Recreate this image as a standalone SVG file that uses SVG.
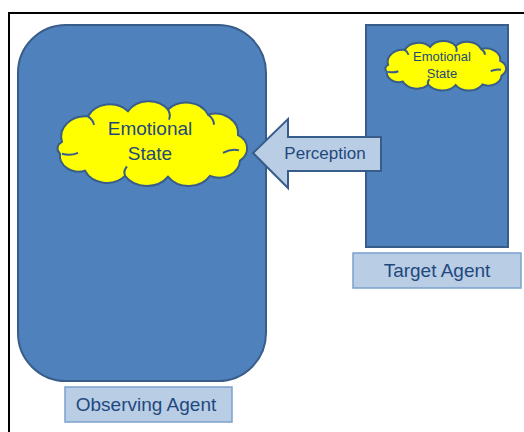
<svg xmlns="http://www.w3.org/2000/svg" width="524" height="432" viewBox="0 0 524 432">
  <style>
    .agent { fill: #4F81BD; stroke: #385D8A; stroke-width: 2; }
    .label { fill: #B9CDE5; stroke: #7BA0CD; stroke-width: 1.5; }
    .cloud { fill: #FFFF00; stroke: #385D8A; stroke-width: 2; vector-effect: non-scaling-stroke; }
    .curl { fill: none; stroke: #385D8A; stroke-width: 2; vector-effect: non-scaling-stroke; }
    .txt { font-family: "Liberation Sans", Arial, sans-serif; fill: #1F497D; text-anchor: middle; }
  </style>
  <defs>
    <g id="cloudShape">
      <path class="cloud" d="M12,48 A24,24 0 0 1 38,18 A24,24 0 0 1 78,12 A24,24 0 0 1 118,10 A24,24 0 0 1 158,16 A23,23 0 0 1 188,40 A18,18 0 0 1 190,70 A21,21 0 0 1 160,88 A25,25 0 0 1 118,89 A26,26 0 0 1 75,88 A24,24 0 0 1 35,82 A19,19 0 0 1 10,62 A9,9 0 0 1 12,48 Z"/>
      <path class="curl" d="M12,62 Q20,65 28,61"/>
      <path class="curl" d="M75,88 Q73,82 77,77"/>
      <path class="curl" d="M189,58 Q181,56 173,61"/>
      <path class="curl" d="M118,10 Q121,16 119,22"/>
      <path class="curl" d="M158,16 Q164,21 164,28"/>
      <path class="curl" d="M38,18 Q43,22 44,28"/>
    </g>
  </defs>
  <rect width="524" height="432" fill="#FFFFFF"/>
  <path d="M9,440 L9,13 L530,13" fill="none" stroke="#000000" stroke-width="2"/>

  <g id="observing-agent">
    <rect class="agent" x="18" y="25" width="248" height="356" rx="48" ry="48"/>
    <g id="observing-emotional-state">
      <use href="#cloudShape" transform="translate(50,101) scale(1,0.851)"/>
      <text class="txt" x="150" y="135" font-size="19">Emotional</text>
      <text class="txt" x="150" y="160" font-size="19">State</text>
    </g>
  </g>
  <g id="observing-agent-label">
    <rect class="label" x="65" y="387" width="167" height="35"/>
    <text class="txt" x="146" y="411" font-size="19">Observing Agent</text>
  </g>

  <g id="target-agent">
    <rect class="agent" x="366" y="25" width="142" height="222"/>
    <g id="target-emotional-state">
      <use href="#cloudShape" transform="translate(380.5,41) scale(0.637,0.495)"/>
      <text class="txt" x="442" y="61" font-size="13">Emotional</text>
      <text class="txt" x="442" y="78" font-size="13">State</text>
    </g>
  </g>
  <g id="target-agent-label">
    <rect class="label" x="353" y="253" width="168" height="35"/>
    <text class="txt" x="437" y="277" font-size="19">Target Agent</text>
  </g>

  <g id="connectors">
    <g id="perception">
      <path d="M253,153 L288,119 L288,137 L381,137 L381,171 L288,171 L288,188 Z" fill="#B9CDE5" stroke="#385D8A" stroke-width="2" stroke-linejoin="miter"/>
      <text class="txt" x="325" y="159" font-size="17">Perception</text>
    </g>
  </g>
</svg>
